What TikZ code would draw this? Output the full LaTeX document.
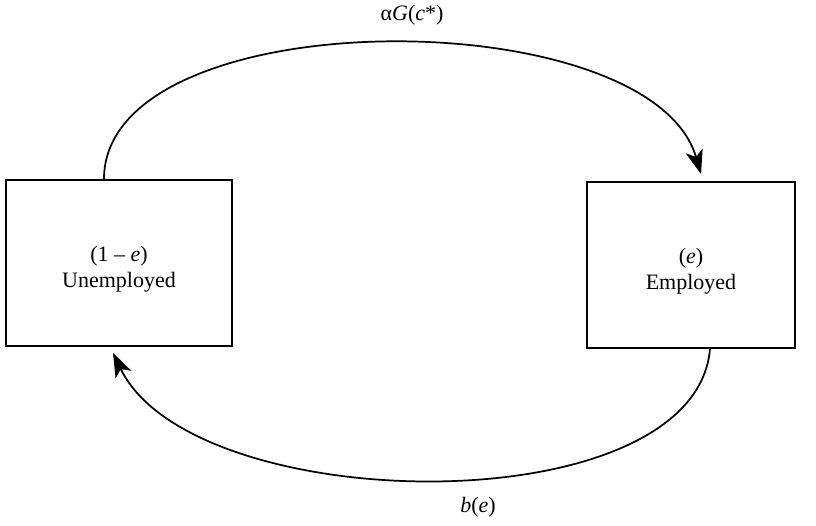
\documentclass[tikz,border=0pt]{standalone}
\usepackage{fontspec}
\setmainfont{Liberation Serif}
\usetikzlibrary{arrows.meta, calc}

\begin{document}
\begin{tikzpicture}[x=0.75pt,y=0.75pt,yscale=-1,xscale=1,
  state/.style={draw, line width=1.3pt, inner sep=0pt, minimum height=124.5pt},
  statetext/.style={align=center, yshift=-5pt, font=\fontsize{16.5}{19.5}\selectfont},
  flow/.style={line width=1.3pt, -{Stealth[length=18pt,width=13pt,inset=4.5pt]}},
  rate/.style={inner sep=0.75pt, font=\fontsize{16.5}{19.5}\selectfont}]
\useasboundingbox (0,0) rectangle (816,525);

% Boxes
\node [state, minimum width=169.5pt, label={[statetext]center:{(1 -- \textit{e})\\Unemployed}}] (unemp) at (119,263) {};
\node [state, minimum width=156pt, label={[statetext]center:{(\textit{e})\\Employed}}] (emp) at (691,265) {};

% Flows
\draw [flow] ($(unemp.north)+(-15,0)$) .. controls ($(unemp.north)+(-15,-180)$) and ($(emp.north)+(-41,-182)$) .. ($(emp.north)+(10,-7)$);
\draw [flow] ($(emp.south)+(19,0)$) .. controls ($(emp.south)+(4,177)$) and ($(unemp.south)+(74,172)$) .. ($(unemp.south)+(-6,6)$);

% Text Node
\node [rate] (hire) at (412,15) {α\textit{G}(\textit{c}*)};
% Text Node
\node [rate] (sep) at (478,507) {\textit{b}(\textit{e})};

\end{tikzpicture}
\end{document}
